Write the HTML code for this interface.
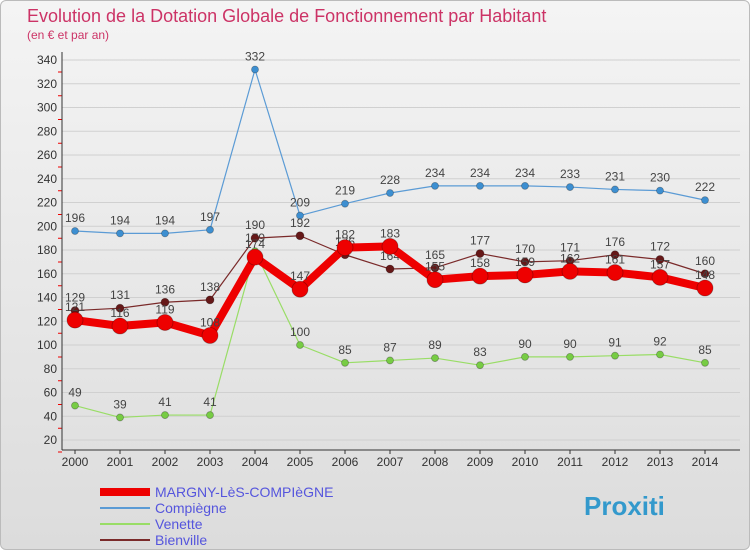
<!DOCTYPE html>
<html><head><meta charset="utf-8"><style>
body{margin:0;width:750px;height:550px;overflow:hidden;font-family:"Liberation Sans",sans-serif}
#wrap{position:absolute;left:0;top:0;width:748px;height:548px;border:1px solid #bbb;border-radius:6px;background:linear-gradient(#f4f4f4,#dcdcdc)}
</style></head><body>
<div id="wrap">
<svg id="chart" width="750" height="550" style="position:absolute;left:-1px;top:-1px"></svg>
</div>
<script>
const years=[2000,2001,2002,2003,2004,2005,2006,2007,2008,2009,2010,2011,2012,2013,2014];
const margny=[121,116,119,108,174,147,182,183,155,158,159,162,161,157,148];
const compiegne=[196,194,194,197,332,209,219,228,234,234,234,233,231,230,222];
const venette=[49,39,41,41,179,100,85,87,89,83,90,90,91,92,85];
const bienville=[129,131,136,138,190,192,176,164,165,177,170,171,176,172,160];
const yTicks=[20,40,60,80,100,120,140,160,180,200,220,240,260,280,300,320,340];
const NS="http://www.w3.org/2000/svg";
const svg=document.getElementById('chart');
function X(i){return 75+i*45;}
function Y(v){return 440-(v-20)*380/320;}
function mk(tag,attrs,parent){const e=document.createElementNS(NS,tag);for(const k in attrs)e.setAttribute(k,attrs[k]);(parent||svg).appendChild(e);return e;}
function txt(x,y,s,attrs){const t=mk('text',Object.assign({x:x,y:y},attrs));t.textContent=s;return t;}
let t=txt(27,22,'Evolution de la Dotation Globale de Fonctionnement par Habitant',{fill:'#cc3366','font-size':18});

t=txt(27,39,'(en € et par an)',{fill:'#cc3366','font-size':12});

// grid
yTicks.forEach(v=>{
 const l=mk('line',{x1:62,x2:740,y1:Y(v),y2:Y(v),stroke:'#d0d0d0','stroke-width':1});
 
 const tk=txt(57,Y(v)+4,String(v),{'font-size':12,fill:'#333','text-anchor':'end'});
 
 const m=mk('line',{x1:58,x2:62,y1:Y(v)+12,y2:Y(v)+12,stroke:'#e00'});
 
});
let ax=mk('line',{x1:62,x2:62,y1:52,y2:450,stroke:'#333'});
ax=mk('line',{x1:62,x2:740,y1:450,y2:450,stroke:'#333'});
years.forEach((yr,i)=>{
 const tk=txt(X(i),466,String(yr),{'font-size':12,fill:'#333','text-anchor':'middle'});
 
 const m=mk('line',{x1:X(i),x2:X(i),y1:450,y2:454,stroke:'#333'});
 
});
function series(data,color,dot,lw,r,name,labelColor){
 const g=mk('g',{});
 const p=mk('polyline',{points:data.map((v,i)=>X(i)+','+Y(v)).join(' '),fill:'none',stroke:color,'stroke-width':lw,'stroke-linejoin':'round'},g);
 
 data.forEach((v,i)=>{
  const c=mk('circle',{cx:X(i),cy:Y(v),r:r,fill:dot,stroke:'rgba(0,0,0,0.3)','stroke-width':0.8},g);
  
  const l=txt(X(i),Y(v)-9,String(v),{'font-size':12,fill:labelColor,'text-anchor':'middle'},g);
  g.appendChild(l);
  
 });
}
series(compiegne,'#5b9bd5','#3d8fd1',1.2,3.5,'compiegne','#444');
series(venette,'#99dd66','#77cc44',1.2,3.5,'venette','#444');
series(bienville,'#7a2a2a','#661818',1.2,4,'bienville','#444');
series(margny,'#ee0000','#ee0000',8,8,'margny','#444');
// legend
const leg=[['MARGNY-LèS-COMPIèGNE','#ee0000',8],['Compiègne','#5b9bd5',2],['Venette','#99dd66',2],['Bienville','#7a2a2a',2]];
leg.forEach((e,i)=>{
 const y=492+i*16;
 const l=mk('line',{x1:100,x2:150,y1:y,y2:y,stroke:e[1],'stroke-width':e[2]});
 
 const tx=txt(155,y+5,e[0],{'font-size':14,fill:'#5555dd'});
 
});
const lg=txt(584,515,'Proxiti',{'font-size':26,'font-weight':'bold',fill:'#3399cc'});

</script>
</body></html>
